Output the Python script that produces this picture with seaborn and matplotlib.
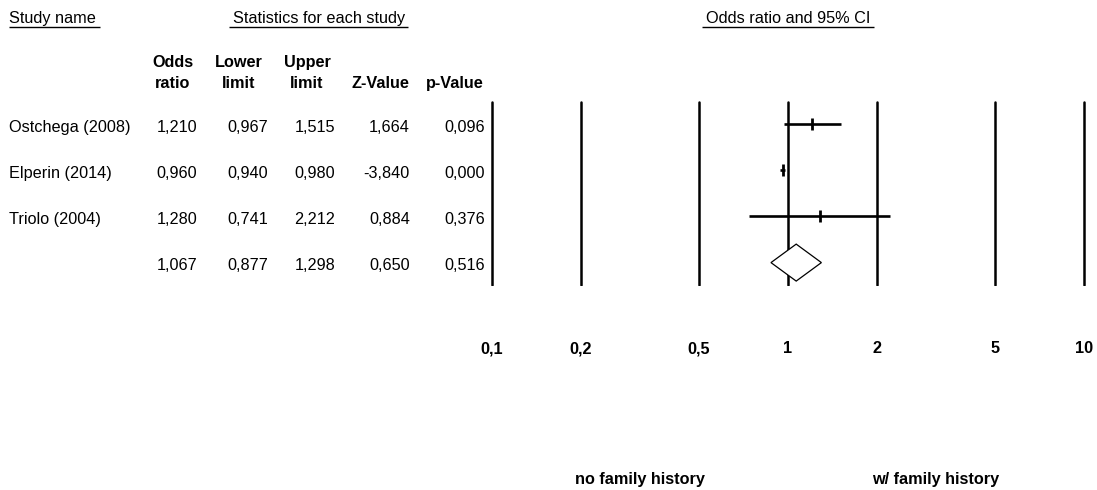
import numpy as np
import pandas as pd
import matplotlib
matplotlib.use("Agg")
import matplotlib.pyplot as plt
import matplotlib.transforms as mtransforms
from matplotlib.ticker import FixedLocator, FixedFormatter, NullLocator
import seaborn as sns

# ---- data -------------------------------------------------------------
studies = ["Ostchega (2008)", "Elperin (2014)", "Triolo (2004)"]
odds_ratio = [1.210, 0.960, 1.280]
lower_limit = [0.967, 0.940, 0.741]
upper_limit = [1.515, 0.980, 2.212]
z_value = [1.664, -3.840, 0.884]
p_value = [0.096, 0.000, 0.376]

pooled_or = 1.067
pooled_lower = 0.877
pooled_upper = 1.298
pooled_z = 0.650
pooled_p = 0.516

axis_ticks = [0.1, 0.2, 0.5, 1, 2, 5, 10]
axis_tick_labels = ["0,1", "0,2", "0,5", "1", "2", "5", "10"]

col_top = ["Odds", "Lower", "Upper", "", ""]
col_bottom = ["ratio", "limit", "limit", "Z-Value", "p-Value"]

left_label = "no family history"
right_label = "w/ family history"


def fmt(v):
    return f"{v:.3f}".replace(".", ",")


# ---- style ------------------------------------------------------------
sns.set_theme(style="white")
plt.rcParams["font.family"] = ["Liberation Sans", "DejaVu Sans"]
FS = 11.7
INK = "black"

# ---- layout (pixels, origin top-left) --------------------------------
W, H = 1097, 490
ROW0, ROW_STEP = 124.0, 46.2
X01_PX, X10_PX = 491.7, 1084.0
PX_PER_DEC = (X10_PX - X01_PX) / 2.0
AX_L, AX_R = 455.0, 1097.0
AX_T = ROW0 - 0.5 * ROW_STEP
AX_B = ROW0 + 3.5 * ROW_STEP

fig = plt.figure(figsize=(W / 100, H / 100), dpi=100)

# pixel-coordinate layer for the statistics table and titles
overlay = fig.add_axes([0, 0, 1, 1])
overlay.set_xlim(0, W)
overlay.set_ylim(H, 0)
overlay.axis("off")

# forest plot axes on a log odds-ratio scale
ax = fig.add_axes([AX_L / W, 1 - AX_B / H, (AX_R - AX_L) / W, (AX_B - AX_T) / H])
ax.set_xscale("log")
ax.patch.set_alpha(0)
for sp in ax.spines.values():
    sp.set_visible(False)

rows = np.arange(len(studies))
df = pd.DataFrame({"study": studies, "odds_ratio": odds_ratio,
                   "lower": lower_limit, "upper": upper_limit, "row": rows})

# reference lines at each tick value
for t in axis_ticks:
    ax.axvline(t, ymin=0.005, ymax=0.995, color=INK, lw=1.8, zorder=1)

# confidence intervals and point estimates
ax.hlines(df["row"], df["lower"], df["upper"], color=INK, lw=1.9, zorder=2)
sns.scatterplot(data=df, x="odds_ratio", y="row", marker="|", s=75,
                color=INK, linewidth=2.0, ax=ax, zorder=3, legend=False)

# pooled estimate diamond
pr = len(studies)
h = 0.40
ax.fill([pooled_lower, pooled_or, pooled_upper, pooled_or],
        [pr, pr - h, pr, pr + h],
        facecolor="white", edgecolor=INK, lw=0.9, zorder=4)

ax.set_xlim(10 ** (-1 - (X01_PX - AX_L) / PX_PER_DEC),
            10 ** (1 + (AX_R - X10_PX) / PX_PER_DEC))
ax.set_ylim(3.5, -0.5)
ax.set_xlabel("")
ax.set_ylabel("")
ax.set_yticks([])
ax.xaxis.set_major_locator(FixedLocator(axis_ticks))
ax.xaxis.set_major_formatter(FixedFormatter(axis_tick_labels))
ax.xaxis.set_minor_locator(NullLocator())
ax.tick_params(axis="x", length=0, pad=40, labelsize=FS, labelcolor=INK)
for lbl in ax.get_xticklabels():
    lbl.set_fontweight("bold")

# favours labels centred under each half of the scale
blend = mtransforms.blended_transform_factory(ax.transData, overlay.transData)
ax.text(np.sqrt(axis_ticks[0] * 1), 484, left_label, transform=blend,
        ha="center", va="baseline", fontsize=FS, fontweight="bold",
        color=INK, clip_on=False)
ax.text(np.sqrt(axis_ticks[-1] * 1), 484, right_label, transform=blend,
        ha="center", va="baseline", fontsize=FS, fontweight="bold",
        color=INK, clip_on=False)

# ---- statistics table ------------------------------------------------
title_base = 23.3
titles = [
    (overlay.text(9, title_base, "Study name", ha="left", va="baseline",
                  fontsize=FS, color=INK), 0, 4),
    (overlay.text(319, title_base, "Statistics for each study", ha="center",
                  va="baseline", fontsize=FS, color=INK), 4, 3),
    (overlay.text(788.5, title_base, "Odds ratio and 95% CI", ha="center",
                  va="baseline", fontsize=FS, color=INK), 4, 3),
]

head_x = [172.5, 239, 307, 380, 455]
val_right = [197, 268, 335, 410, 485]
for x, top, bot in zip(head_x, col_top, col_bottom):
    if top:
        overlay.text(x, 67.3, top, ha="center", va="baseline", fontsize=FS,
                     fontweight="bold", color=INK)
    overlay.text(x, 88.0, bot, ha="center", va="baseline", fontsize=FS,
                 fontweight="bold", color=INK)

table_rows = [[odds_ratio[i], lower_limit[i], upper_limit[i], z_value[i], p_value[i]]
              for i in range(len(studies))]
table_rows.append([pooled_or, pooled_lower, pooled_upper, pooled_z, pooled_p])
names = studies + [""]

for i, (name, vals) in enumerate(zip(names, table_rows)):
    base = ROW0 + i * ROW_STEP + 7.6
    if name:
        overlay.text(9, base, name, ha="left", va="baseline", fontsize=FS, color=INK)
    for x, v in zip(val_right, vals):
        overlay.text(x, base, fmt(v), ha="right", va="baseline", fontsize=FS, color=INK)

# underline the section titles
fig.canvas.draw()
renderer = fig.canvas.get_renderer()
inv = overlay.transData.inverted()
for t, pad_l, pad_r in titles:
    bb = t.get_window_extent(renderer)
    (x0, _), (x1, _) = inv.transform([(bb.x0, bb.y0), (bb.x1, bb.y1)])
    overlay.plot([x0 - pad_l, x1 + pad_r], [26.7, 26.7], color=INK, lw=1.0,
                 solid_capstyle="butt")

fig.savefig("out.png", dpi=100, facecolor="white")
